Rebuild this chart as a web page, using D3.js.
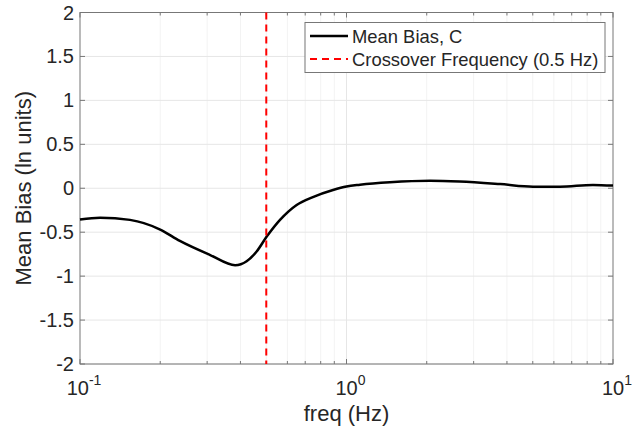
<!DOCTYPE html>
<html>
  <head>
    <script src="https://d3js.org/d3.v7.min.js"></script>
    <style>
      body { margin: 0; background: #fff; }
      text { font-family: "Liberation Sans", Arial, sans-serif; fill: #262626; }
    </style>
  </head>
  <body>
    <div id="chart"></div>
    <script>
      // values
      var freq = [0.1, 0.119, 0.154, 0.2, 0.237, 0.308, 0.382, 0.422, 0.46, 0.502, 0.563, 0.65,
                  0.748, 0.89, 1.0, 1.124, 1.455, 2.06, 2.66, 3.77, 5.01, 6.33, 8.41, 10];
      var meanBias = [-0.356, -0.335, -0.36, -0.47, -0.6, -0.76, -0.875, -0.83, -0.72, -0.55, -0.36, -0.19,
                      -0.1, -0.02, 0.02, 0.04, 0.068, 0.085, 0.076, 0.047, 0.018, 0.018, 0.038, 0.03];
      var crossover = 0.5;
      var yTicks = [-2, -1.5, -1, -0.5, 0, 0.5, 1, 1.5, 2];
      var xTicks = [0.1, 1, 10];
      var legendLabels = ["Mean Bias, C", "Crossover Frequency (0.5 Hz)"];

      var width = 638, height = 432;
      var pLeft = 80, pRight = 613, pTop = 12.5, pBottom = 364;

      var svg = d3.select("#chart").append("svg")
        .attr("width", width)
        .attr("height", height);

      var x = d3.scaleLog().domain([0.1, 10]).range([pLeft, pRight]);
      var y = d3.scaleLinear().domain([-2, 2]).range([pBottom, pTop]);

      // minor ticks for log axis
      var minor = [];
      [0.1, 1].forEach(function (d) {
        for (var k = 2; k <= 9; k++) minor.push(d * k);
      });

      // grid
      var grid = svg.append("g").attr("stroke", "#e6e6e6").attr("stroke-width", 1);
      grid.selectAll(".gx").data(minor.concat([1])).enter().append("line")
        .attr("x1", d => x(d)).attr("x2", d => x(d))
        .attr("y1", pTop).attr("y2", pBottom)
        .attr("stroke-dasharray", d => d === 1 ? null : "1,1");
      grid.selectAll(".gy").data(yTicks).enter().append("line")
        .attr("x1", pLeft).attr("x2", pRight)
        .attr("y1", d => y(d)).attr("y2", d => y(d));

      // box
      svg.append("rect")
        .attr("x", pLeft).attr("y", pTop)
        .attr("width", pRight - pLeft).attr("height", pBottom - pTop)
        .attr("fill", "none").attr("stroke", "#777").attr("stroke-width", 1);

      // inward ticks
      var ticks = svg.append("g").attr("stroke", "#777").attr("stroke-width", 1);
      ticks.selectAll(".tyl").data(yTicks).enter().append("line")
        .attr("x1", pLeft).attr("x2", pLeft + 5)
        .attr("y1", d => y(d)).attr("y2", d => y(d));
      ticks.selectAll(".tyr").data(yTicks).enter().append("line")
        .attr("x1", pRight).attr("x2", pRight - 5)
        .attr("y1", d => y(d)).attr("y2", d => y(d));
      var allX = minor.concat(xTicks);
      ticks.selectAll(".txb").data(allX).enter().append("line")
        .attr("x1", d => x(d)).attr("x2", d => x(d))
        .attr("y1", pBottom).attr("y2", d => pBottom - (xTicks.indexOf(d) >= 0 ? 5 : 3));
      ticks.selectAll(".txt").data(allX).enter().append("line")
        .attr("x1", d => x(d)).attr("x2", d => x(d))
        .attr("y1", pTop).attr("y2", d => pTop + (xTicks.indexOf(d) >= 0 ? 5 : 3));

      // y tick labels
      svg.selectAll(".ylab").data(yTicks).enter().append("text")
        .attr("x", 74).attr("y", d => y(d) + 7)
        .attr("text-anchor", "end")
        .attr("font-size", 20)
        .text(d => d);

      // x tick labels 10^n
      xTicks.forEach(function (d) {
        var t = svg.append("text")
          .attr("x", x(d) + 4).attr("y", 395)
          .attr("text-anchor", "middle")
          .attr("font-size", 20);
        t.append("tspan").text("10");
        t.append("tspan").attr("dy", -10).attr("font-size", 14).text(Math.round(Math.log10(d)));
      });

      // axis labels
      svg.append("text")
        .attr("x", (pLeft + pRight) / 2).attr("y", 421)
        .attr("text-anchor", "middle")
        .attr("font-size", 22)
        .text("freq (Hz)");
      svg.append("text")
        .attr("transform", "translate(31," + y(0) + ") rotate(-90)")
        .attr("text-anchor", "middle")
        .attr("font-size", 22)
        .text("Mean Bias (ln units)");

      // data line
      var line = d3.line()
        .x((d, i) => x(freq[i]))
        .y(d => y(d))
        .curve(d3.curveMonotoneX);
      svg.append("path")
        .datum(meanBias)
        .attr("d", line)
        .attr("fill", "none")
        .attr("stroke", "#000")
        .attr("stroke-width", 2.5);

      // crossover line
      svg.append("line")
        .attr("x1", x(crossover)).attr("x2", x(crossover))
        .attr("y1", pTop).attr("y2", pBottom)
        .attr("stroke", "#ff0000")
        .attr("stroke-width", 2)
        .attr("stroke-dasharray", "7,5");

      // legend
      var lg = svg.append("g");
      lg.append("rect")
        .attr("x", 305).attr("y", 22.5)
        .attr("width", 300).attr("height", 50)
        .attr("fill", "#fff").attr("stroke", "#777");
      var styles = [{ c: "#000", dash: null, w: 2.5 }, { c: "#ff0000", dash: "7,5", w: 2 }];
      legendLabels.forEach(function (lab, i) {
        var cy = 36 + i * 23;
        lg.append("line")
          .attr("x1", 310).attr("x2", 348)
          .attr("y1", cy).attr("y2", cy)
          .attr("stroke", styles[i].c)
          .attr("stroke-width", styles[i].w)
          .attr("stroke-dasharray", styles[i].dash);
        lg.append("text")
          .attr("x", 352).attr("y", cy + 6.5)
          .attr("font-size", 18.4)
          .text(lab);
      });
    </script>
  </body>
</html>
